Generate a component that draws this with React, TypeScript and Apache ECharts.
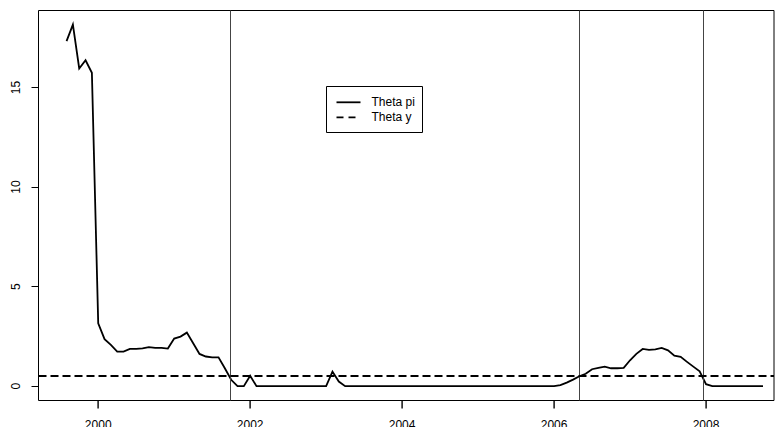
import React, { useEffect, useRef } from "react";
import * as echarts from "echarts";

// Monthly series starting August 1999
const START_YEAR = 1999;
const START_MONTH = 8;

const thetaPi: number[] = [
  17.33, 18.16, 15.96, 16.37, 15.74, 3.16, 2.36, 2.07, 1.74, 1.74,
  1.87, 1.87, 1.9, 1.96, 1.92, 1.92, 1.89, 2.39, 2.49, 2.69,
  2.16, 1.62, 1.49, 1.45, 1.45, 0.9, 0.32, 0, 0, 0.52,
  0, 0, 0, 0, 0, 0, 0, 0, 0, 0, 0, 0,
  0.73, 0.23,
  0, 0, 0, 0, 0, 0, 0, 0, 0, 0, 0, 0, 0, 0, 0, 0, 0,
  0, 0, 0, 0, 0, 0, 0, 0, 0, 0, 0, 0, 0, 0, 0, 0, 0,
  0.05, 0.18, 0.33, 0.5, 0.62, 0.85, 0.92, 0.98, 0.9, 0.9,
  0.92, 1.3, 1.62, 1.87, 1.82, 1.85, 1.92, 1.8, 1.53, 1.47,
  1.22, 0.98, 0.75, 0.1,
  0, 0, 0, 0, 0, 0, 0, 0, 0,
];

const thetaY = 0.5;
const breakDates: number[] = [2001.74, 2006.33, 2007.96];
const xTicks: number[] = [2000, 2002, 2004, 2006, 2008];
const yTicks: number[] = [0, 5, 10, 15];
const legendNames: string[] = ["Theta pi", "Theta y"];

const X_MIN = 1999.214;
const X_MAX = 2008.895;
const Y_MIN = -0.72;
const Y_MAX = 18.87;

const FONT = "'Liberation Sans', Arial, Helvetica, sans-serif";
const TICK_LEN = 7;

export default function App() {
  const ref = useRef<HTMLDivElement>(null);

  useEffect(() => {
    if (!ref.current) return;
    const chart = echarts.init(ref.current, undefined, { renderer: "svg" });

    const piData = thetaPi.map((v, i) => [
      START_YEAR + (START_MONTH - 1 + i) / 12,
      v,
    ]);

    const option: any = {
      animation: false,
      backgroundColor: "#ffffff",
      grid: {
        left: 38.5,
        top: 10.5,
        right: 4,
        bottom: 26.5,
        show: true,
        borderColor: "#000",
        borderWidth: 1,
        backgroundColor: "transparent",
        outerBoundsMode: "none",
        containLabel: false,
      },
      xAxis: {
        type: "value",
        min: X_MIN,
        max: X_MAX,
        axisLine: { show: false },
        splitLine: { show: false },
        axisTick: { show: false },
        axisLabel: {
          customValues: xTicks,
          margin: 18,
          color: "#000",
          fontFamily: FONT,
          fontSize: 12,
          hideOverlap: false,
          formatter: (v: number) => String(v),
        },
      },
      yAxis: {
        type: "value",
        min: Y_MIN,
        max: Y_MAX,
        axisLine: { show: false },
        splitLine: { show: false },
        axisTick: {
          show: true,
          length: TICK_LEN,
          customValues: yTicks,
          lineStyle: { color: "#000", width: 1 },
        },
        axisLabel: {
          customValues: yTicks,
          rotate: 90,
          margin: 17,
          color: "#000",
          fontFamily: FONT,
          fontSize: 12,
          formatter: (v: number) => String(v),
        },
      },
      series: [
        {
          name: legendNames[0],
          type: "line",
          data: piData,
          showSymbol: false,
          symbol: "none",
          lineStyle: { color: "#000", width: 1.8, join: "miter" },
          markLine: {
            silent: true,
            symbol: "none",
            label: { show: false },
            lineStyle: { color: "#444", width: 1, type: "solid" },
            data: breakDates.map((d) => ({ xAxis: d })),
          },
        },
        {
          name: legendNames[1],
          type: "line",
          data: [],
          showSymbol: false,
          markLine: {
            silent: true,
            symbol: "none",
            label: { show: false },
            lineStyle: { color: "#000", width: 1.8, type: [8, 4] },
            data: [{ yAxis: thetaY }],
          },
        },
        {
          name: "xticks",
          type: "custom",
          silent: true,
          clip: false,
          z: 10,
          data: xTicks.map((t) => [t, Y_MIN]),
          renderItem: (_params: any, api: any) => {
            const p = api.coord([api.value(0), api.value(1)]);
            const x = Math.round(p[0]);
            return {
              type: "rect",
              shape: { x: x - 0.6, y: p[1], width: 1.4, height: TICK_LEN + 1 },
              style: { fill: "#000" },
            };
          },
        },
      ],
      graphic: [
        {
          type: "rect",
          z: 100,
          shape: { x: 326.5, y: 86.5, width: 96, height: 46 },
          style: { fill: "#fff", stroke: "#000", lineWidth: 1 },
        },
        {
          type: "line",
          z: 101,
          shape: { x1: 336.5, y1: 102.3, x2: 360.5, y2: 102.3 },
          style: { stroke: "#000", lineWidth: 1.8 },
        },
        {
          type: "line",
          z: 101,
          shape: { x1: 336.5, y1: 117.3, x2: 360.5, y2: 117.3 },
          style: { stroke: "#000", lineWidth: 1.8, lineDash: [7, 5] },
        },
        {
          type: "text",
          z: 101,
          x: 371.5,
          y: 102,
          style: {
            text: legendNames[0],
            fill: "#000",
            font: `12px ${FONT}`,
            verticalAlign: "middle",
            align: "left",
          },
        },
        {
          type: "text",
          z: 101,
          x: 371.5,
          y: 117,
          style: {
            text: legendNames[1],
            fill: "#000",
            font: `12px ${FONT}`,
            verticalAlign: "middle",
            align: "left",
          },
        },
      ],
    };

    chart.setOption(option);
    return () => chart.dispose();
  }, []);

  return (
    <div
      ref={ref}
      style={{ position: "fixed", left: 0, top: 0, width: 778, height: 427 }}
    />
  );
}
